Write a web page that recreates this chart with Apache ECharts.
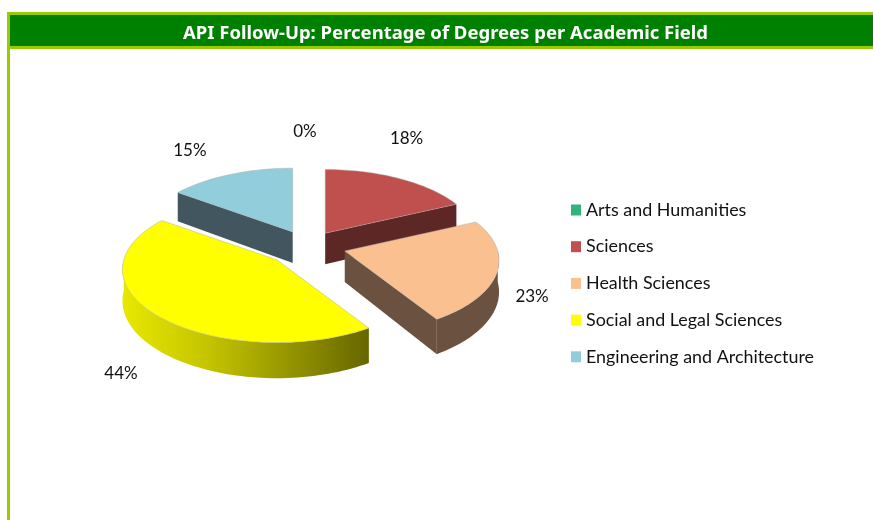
<!DOCTYPE html>
<html>
<head>
<meta charset="utf-8">
<title>API Follow-Up</title>
<script src="https://cdn.jsdelivr.net/npm/echarts@6/dist/echarts.min.js"></script>
<style>
html, body { margin: 0; padding: 0; background: #fff; }
#chart { width: 873px; height: 520px; }
</style>
</head>
<body>
<div id="chart"></div>
<script>
var chartTitle = 'API Follow-Up: Percentage of Degrees per Academic Field';
var categories = ['Arts and Humanities', 'Sciences', 'Health Sciences', 'Social and Legal Sciences', 'Engineering and Architecture'];
var shares = [0, 18, 23, 44, 15];

// look of the slices, same order as categories
var topColors = ['#2fb57c', '#c0504d', '#fac090', '#ffff00', '#92cddc'];
var wallColors = ['#1c6d4a', '#5c2725', '#6b5240', '#808000', '#41565f'];
var drawOrder = [0, 4, 1, 2, 3];      // back to front
var explode = [0.24, 0.21, 0.25, 0.28, 0.22];
var labelShift = [[-3, 16], [-22, 2], [8, 14], [-23, 39], [-16, 20]];

// fake 3d pie
var cx = 308, cy = 246;
var rx = 153, ry = 72;
var depth = 31;
var persp = 0.13;
var labelRx = 225, labelRy = 130;

var total = 0;
var starts = [];
for (var i = 0; i < shares.length; i++) {
    starts.push(total);
    total += shares[i];
}

function toRad(share) {
    return share / total * Math.PI * 2;
}

// angle is clockwise from the back of the pie
function rimPoint(ox, oy, a, drop) {
    var u = Math.sin(a), v = Math.cos(a);
    var p = 1 / (1 + persp * v);
    return [ox + rx * u * p, oy - ry * v * p + (drop ? depth * p : 0)];
}

function arc(ox, oy, a0, a1, drop) {
    var pts = [];
    var n = Math.max(2, Math.ceil((a1 - a0) / 0.03));
    for (var k = 0; k <= n; k++) {
        pts.push(rimPoint(ox, oy, a0 + (a1 - a0) * k / n, drop));
    }
    return pts;
}

function poly(points, fill, stroke) {
    var style = { fill: fill };
    if (stroke) {
        style.stroke = stroke;
        style.lineWidth = 1;
    }
    return { type: 'polygon', shape: { points: points }, style: style };
}

function wallFill(idx) {
    if (categories[idx] !== 'Social and Legal Sciences') return wallColors[idx];
    return {
        type: 'linear', x: 0, y: 0, x2: 1, y2: 0,
        colorStops: [
            { offset: 0, color: '#e8e800' },
            { offset: 0.35, color: '#c4c400' },
            { offset: 1, color: '#666600' }
        ]
    };
}

function renderSlice(idx) {
    return function (params, api) {
        var value = api.value(0);
        var a0 = toRad(starts[idx]);
        var a1 = a0 + toRad(value);
        var mid = (a0 + a1) / 2;
        var ox = cx + rx * explode[idx] * Math.sin(mid);
        var oy = cy - ry * explode[idx] * Math.cos(mid);
        var children = [];

        if (value > 0) {
            // cut faces that look to the viewer
            if (Math.cos(a1 + Math.PI / 2) < -0.01) {
                var e1 = rimPoint(ox, oy, a1, false), e1d = rimPoint(ox, oy, a1, true);
                children.push(poly([[ox, oy], e1, e1d, [ox, oy + depth]], wallColors[idx]));
            }
            if (Math.cos(a0 - Math.PI / 2) < -0.01) {
                var e0 = rimPoint(ox, oy, a0, false), e0d = rimPoint(ox, oy, a0, true);
                children.push(poly([[ox, oy], e0, e0d, [ox, oy + depth]], wallColors[idx]));
            }
            // front part of the rim
            var w0 = Math.max(a0, Math.PI / 2), w1 = Math.min(a1, Math.PI * 1.5);
            if (w1 > w0) {
                var upper = arc(ox, oy, w0, w1, false);
                var lower = arc(ox, oy, w0, w1, true).reverse();
                children.push(poly(upper.concat(lower), wallFill(idx)));
            }
            children.push(poly([[ox, oy]].concat(arc(ox, oy, a0, a1, false)), topColors[idx], 'rgba(170,170,170,0.45)'));
        }

        children.push({
            type: 'text',
            z2: 10,
            style: {
                text: value + '%',
                x: cx + labelRx * Math.sin(mid) + labelShift[idx][0],
                y: cy - labelRy * Math.cos(mid) + labelShift[idx][1],
                fill: '#111',
                font: '17px Lato',
                align: 'center',
                verticalAlign: 'middle'
            }
        });
        return { type: 'group', children: children };
    };
}

var series = [];
for (var s = 0; s < categories.length; s++) {
    series.push({
        type: 'custom',
        name: categories[s],
        coordinateSystem: 'none',
        z: 2 + drawOrder.indexOf(s),
        silent: true,
        itemStyle: { color: topColors[s] },
        data: [[shares[s]]],
        renderItem: renderSlice(s)
    });
}

var myChart = echarts.init(document.getElementById('chart'), null, { renderer: 'canvas' });
myChart.setOption({
    animation: false,
    backgroundColor: '#fff',
    title: {
        text: chartTitle,
        left: 440.5,
        top: 29,
        textAlign: 'center',
        textVerticalAlign: 'middle',
        textStyle: { color: '#fff', fontFamily: 'Noto Sans', fontWeight: 'bold', fontSize: 18.5 },
        z: 20
    },
    graphic: [
        { type: 'rect', z: 0, shape: { x: 7, y: 12, width: 866, height: 37 }, style: { fill: '#99cc00' } },
        { type: 'rect', z: 1, shape: { x: 10, y: 15, width: 863, height: 31 }, style: { fill: '#008000' } },
        { type: 'rect', z: 0, shape: { x: 7, y: 12, width: 3, height: 508 }, style: { fill: '#99cc00' } }
    ],
    legend: {
        orient: 'vertical',
        left: 571,
        top: 200,
        padding: 0,
        icon: 'rect',
        itemWidth: 10,
        itemHeight: 11,
        itemGap: 16.7,
        selectedMode: false,
        data: categories,
        textStyle: { color: '#111', fontFamily: 'Lato', fontSize: 17.9, height: 20, lineHeight: 20, padding: [0, 0, 0, 0] }
    },
    series: series
});
</script>
</body>
</html>
